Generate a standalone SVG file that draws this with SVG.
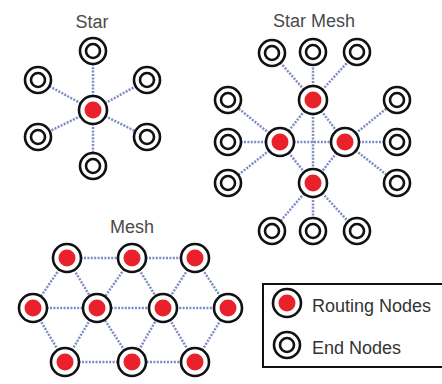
<svg xmlns="http://www.w3.org/2000/svg" width="442" height="384" viewBox="0 0 442 384">
<defs>
<style>
.t{font-family:"Liberation Sans",Arial,sans-serif;font-size:18px;fill:#4a4a4a;text-anchor:middle}
.lt{font-family:"Liberation Sans",Arial,sans-serif;font-size:18px;fill:#333}
.c line{stroke:#7d8cc4;stroke-width:2.5;stroke-dasharray:2 1.4}
.o{fill:#fff;stroke:#111;stroke-width:2.6}
.r{fill:#e8212b}
</style>
<g id="endSym"><circle class="o" r="13"/><circle class="o" r="7"/></g>
<g id="routeSym"><circle class="o" r="14"/><circle class="r" r="8.5"/></g>
</defs>
<rect width="442" height="384" fill="#fff"/>
<text class="t" x="92" y="28">Star</text>
<text class="t" x="314" y="27">Star Mesh</text>
<text class="t" x="132" y="233">Mesh</text>
<g id="connectors" class="c">
<!-- star -->
<line x1="93" y1="110" x2="93" y2="51"/>
<line x1="93" y1="110" x2="38" y2="80"/>
<line x1="93" y1="110" x2="147" y2="80"/>
<line x1="93" y1="110" x2="38" y2="137"/>
<line x1="93" y1="110" x2="147" y2="137"/>
<line x1="93" y1="110" x2="93" y2="166"/>
<!-- star mesh -->
<line x1="313" y1="100" x2="272" y2="53"/>
<line x1="313" y1="100" x2="313" y2="52"/>
<line x1="313" y1="100" x2="357" y2="52"/>
<line x1="313" y1="100" x2="280" y2="142"/>
<line x1="313" y1="100" x2="345" y2="142"/>
<line x1="313" y1="100" x2="313" y2="183"/>
<line x1="280" y1="142" x2="345" y2="142"/>
<line x1="280" y1="142" x2="313" y2="183"/>
<line x1="345" y1="142" x2="313" y2="183"/>
<line x1="280" y1="142" x2="228" y2="100"/>
<line x1="280" y1="142" x2="228" y2="142"/>
<line x1="280" y1="142" x2="228" y2="183"/>
<line x1="345" y1="142" x2="397" y2="100"/>
<line x1="345" y1="142" x2="397" y2="142"/>
<line x1="345" y1="142" x2="397" y2="183"/>
<line x1="313" y1="183" x2="272" y2="231"/>
<line x1="313" y1="183" x2="313" y2="231"/>
<line x1="313" y1="183" x2="357" y2="231"/>
<!-- mesh -->
<line x1="67" y1="258" x2="132" y2="258"/>
<line x1="132" y1="258" x2="195" y2="258"/>
<line x1="33" y1="308" x2="228" y2="308"/>
<line x1="65" y1="362" x2="195" y2="362"/>
<line x1="67" y1="258" x2="33" y2="308"/>
<line x1="67" y1="258" x2="97" y2="308"/>
<line x1="132" y1="258" x2="97" y2="308"/>
<line x1="132" y1="258" x2="163" y2="308"/>
<line x1="195" y1="258" x2="163" y2="308"/>
<line x1="195" y1="258" x2="228" y2="308"/>
<line x1="65" y1="362" x2="33" y2="308"/>
<line x1="65" y1="362" x2="97" y2="308"/>
<line x1="132" y1="362" x2="97" y2="308"/>
<line x1="132" y1="362" x2="163" y2="308"/>
<line x1="195" y1="362" x2="163" y2="308"/>
<line x1="195" y1="362" x2="228" y2="308"/>
</g>
<!-- star nodes -->
<g id="star-center"><use href="#routeSym" x="93" y="110"/></g>
<g id="star-top"><use href="#endSym" x="93" y="51"/></g>
<g id="star-ul"><use href="#endSym" x="38" y="80"/></g>
<g id="star-ur"><use href="#endSym" x="147" y="80"/></g>
<g id="star-ll"><use href="#endSym" x="38" y="137"/></g>
<g id="star-lr"><use href="#endSym" x="147" y="137"/></g>
<g id="star-bottom"><use href="#endSym" x="93" y="166"/></g>
<!-- star mesh nodes -->
<g id="sm-r-top"><use href="#routeSym" x="313" y="100"/></g>
<g id="sm-r-left"><use href="#routeSym" x="280" y="142"/></g>
<g id="sm-r-right"><use href="#routeSym" x="345" y="142"/></g>
<g id="sm-r-bottom"><use href="#routeSym" x="313" y="183"/></g>
<g id="sm-e-t1"><use href="#endSym" x="272" y="53"/></g>
<g id="sm-e-t2"><use href="#endSym" x="313" y="52"/></g>
<g id="sm-e-t3"><use href="#endSym" x="357" y="52"/></g>
<g id="sm-e-l1"><use href="#endSym" x="228" y="100"/></g>
<g id="sm-e-l2"><use href="#endSym" x="228" y="142"/></g>
<g id="sm-e-l3"><use href="#endSym" x="228" y="183"/></g>
<g id="sm-e-r1"><use href="#endSym" x="397" y="100"/></g>
<g id="sm-e-r2"><use href="#endSym" x="397" y="142"/></g>
<g id="sm-e-r3"><use href="#endSym" x="397" y="183"/></g>
<g id="sm-e-b1"><use href="#endSym" x="272" y="231"/></g>
<g id="sm-e-b2"><use href="#endSym" x="313" y="231"/></g>
<g id="sm-e-b3"><use href="#endSym" x="357" y="231"/></g>
<!-- mesh nodes -->
<g id="m-t1"><use href="#routeSym" x="67" y="258"/></g>
<g id="m-t2"><use href="#routeSym" x="132" y="258"/></g>
<g id="m-t3"><use href="#routeSym" x="195" y="258"/></g>
<g id="m-m1"><use href="#routeSym" x="33" y="308"/></g>
<g id="m-m2"><use href="#routeSym" x="97" y="308"/></g>
<g id="m-m3"><use href="#routeSym" x="163" y="308"/></g>
<g id="m-m4"><use href="#routeSym" x="228" y="308"/></g>
<g id="m-b1"><use href="#routeSym" x="65" y="362"/></g>
<g id="m-b2"><use href="#routeSym" x="132" y="362"/></g>
<g id="m-b3"><use href="#routeSym" x="195" y="362"/></g>
<!-- legend -->
<g id="legend">
<rect x="263" y="284" width="190" height="83" fill="#fff" stroke="#111" stroke-width="2"/>
<use href="#routeSym" x="287" y="303"/>
<text class="lt" x="312" y="312">Routing Nodes</text>
<use href="#endSym" x="287" y="345"/>
<text class="lt" x="312" y="354">End Nodes</text>
</g>
</svg>
